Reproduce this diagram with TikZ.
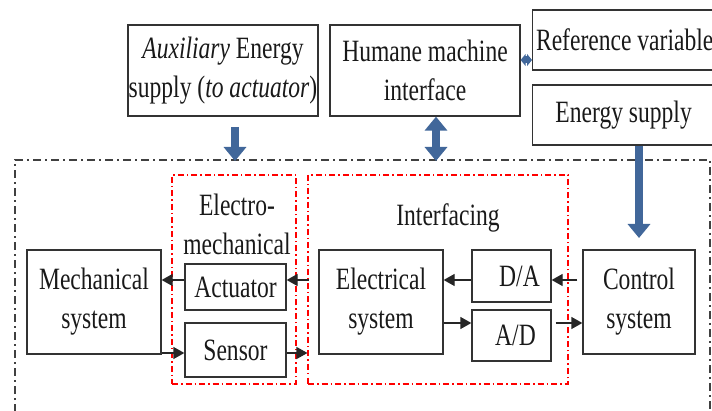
\documentclass[tikz,border=0pt]{standalone}
\usepackage{fontspec}
\setmainfont[FakeStretch=0.76]{Liberation Serif}
\usetikzlibrary{arrows.meta}
\definecolor{bluearr}{HTML}{41679A}
\begin{document}
\begin{tikzpicture}[x=1pt,y=-1pt,
  every node/.style={font=\fontsize{31}{39}\selectfont, text=black!90, align=center},
  box/.style={draw=black!80, line width=1.3pt, inner sep=0pt},
  redbox/.style={draw=red, line width=1.1pt, dash pattern=on 6pt off 3pt on 1.5pt off 3pt},
  outerbox/.style={draw=black!75, line width=1.1pt, dash pattern=on 8pt off 4pt on 2pt off 4pt},
  sig/.style={draw=black!85, line width=1.3pt, -{Triangle[length=11pt,width=12pt]}},
  bigarr/.style={draw=bluearr, line width=8pt, -{Triangle[length=14pt,width=22pt]}},
  bigdbl/.style={draw=bluearr, line width=8pt, {Triangle[length=14pt,width=22pt]}-{Triangle[length=14pt,width=22pt]}},
  smalldbl/.style={draw=bluearr, line width=7pt, {Triangle[length=5pt,width=12pt]}-{Triangle[length=5pt,width=12pt]}}
]
\useasboundingbox (0,0) rectangle (712,411);
% outer dash-dot boundary
\draw[outerbox] (15,430) -- (15,160) -- (710,160) -- (710,430);
% top boxes
\node[box, minimum width=190pt, minimum height=91pt] (aux) at (223,70.5) {\textit{Auxiliary} Energy\\supply (\textit{to actuator})};
\node[box, minimum width=190pt, minimum height=91pt] (hmi) at (425,70.5) {Humane machine\\interface};
\node[box, minimum width=192pt, minimum height=60pt, anchor=west] (ref) at (532,40) {Reference variable\hspace*{8pt}};
\node[box, minimum width=192pt, minimum height=60pt, anchor=west] (ener) at (532,115) {Energy supply\hspace*{10pt}};
% red groups
\node[redbox, minimum width=124pt, minimum height=209pt] (grpem) at (234,279.5) {};
\node[redbox, minimum width=260pt, minimum height=209pt] (grpif) at (438,279.5) {};
\node (lblem) at (237,224) {Electro-\\mechanical};
\node (lblif) at (448,218) {Interfacing};
% inner boxes
\node[box, minimum width=134pt, minimum height=104pt] (mech) at (94,302) {Mechanical\\system};
\node[box, minimum width=101pt, minimum height=46pt] (act) at (235.5,287) {\raisebox{-6pt}{Actuator}};
\node[box, minimum width=101pt, minimum height=54pt] (sen) at (235.5,350) {Sensor};
\node[box, minimum width=124pt, minimum height=104pt] (elec) at (381,302) {Electrical\\system};
\node[box, minimum width=79pt, minimum height=52pt] (da) at (511.5,276) {\hspace*{16pt}D/A};
\node[box, minimum width=79pt, minimum height=51pt] (ad) at (511.5,335.5) {\raisebox{-8pt}{\hspace*{8pt}A/D}};
\node[box, minimum width=112pt, minimum height=104pt] (ctrl) at (639,302) {Control\\system};
% blue arrows
\draw[bigarr] (235,127) -- (235,161);
\draw[bigdbl] (hmi.south -| 436,0) -- (436,161);
\draw[smalldbl] (hmi.east |- 0,60) -- (ref.west |- 0,60);
\draw[bigarr] (ener.south -| 639,0) -- (639,238);
% signal arrows
\draw[sig] (act.west |- 0,280) -- (mech.east |- 0,280);
\draw[sig] (grpem.east |- 0,280) ++(12,0) -- (act.east |- 0,280);
\draw[sig] (mech.east |- 0,353) -- (sen.west |- 0,353);
\draw[sig] (sen.east |- 0,353) -- (grpif.west |- 0,353);
\draw[sig] (da.west |- 0,280) -- (elec.east |- 0,280);
\draw[sig] (ctrl.west |- 0,280) ++(-5,0) -- (da.east |- 0,280);
\draw[sig] (elec.east |- 0,323) -- (ad.west |- 0,323);
\draw[sig] (ad.east |- 0,323) ++(4,0) -- (ctrl.west |- 0,323);
\end{tikzpicture}
\end{document}
